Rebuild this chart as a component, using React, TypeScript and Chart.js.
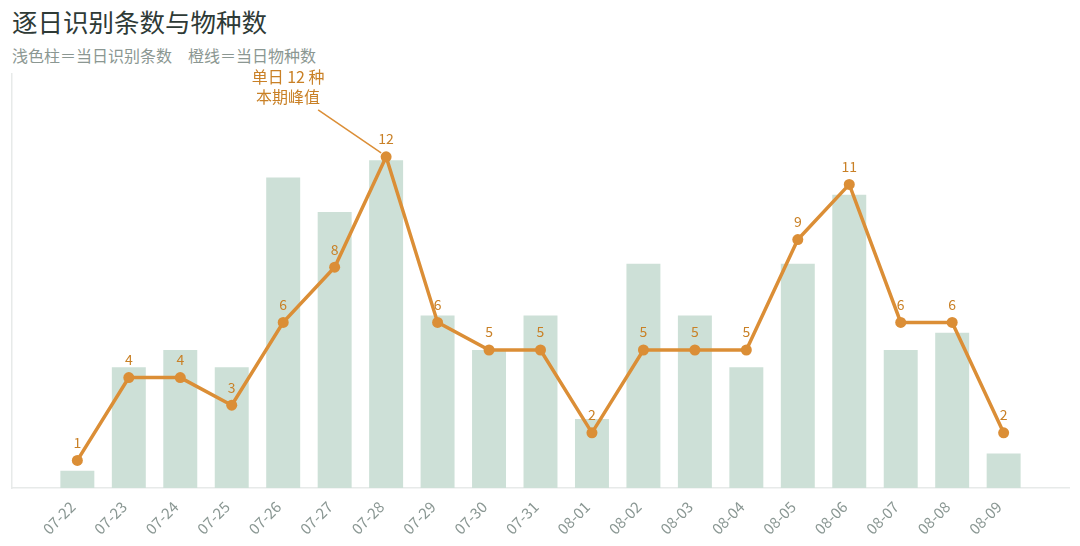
import { Chart, registerables } from "chart.js";
import { useEffect, useRef } from "react";

Chart.register(...registerables);

const dayLabels = [
  "07-22", "07-23", "07-24", "07-25", "07-26", "07-27", "07-28", "07-29", "07-30", "07-31",
  "08-01", "08-02", "08-03", "08-04", "08-05", "08-06", "08-07", "08-08", "08-09",
];
const recordCounts = [1, 7, 8, 7, 18, 16, 19, 10, 8, 10, 4, 13, 10, 7, 13, 17, 8, 9, 2];
const speciesCounts = [1, 4, 4, 3, 6, 8, 12, 6, 5, 5, 2, 5, 5, 5, 9, 11, 6, 6, 2];

const FONT = "'Noto Sans CJK SC', 'Noto Sans', sans-serif";
const ORANGE = "#db8e36";
const LABEL_ORANGE = "#c98026";

// number labels above each point + the peak note
const lineLabels = {
  id: "lineLabels",
  afterDatasetsDraw(chart: Chart) {
    const { ctx } = chart;
    const meta = chart.getDatasetMeta(1);
    ctx.save();
    ctx.fillStyle = LABEL_ORANGE;
    ctx.font = `14px ${FONT}`;
    ctx.textAlign = "center";
    ctx.textBaseline = "bottom";
    meta.data.forEach((pt: any, i: number) => {
      ctx.fillText(String(speciesCounts[i]), pt.x, pt.y - 11);
    });

    const peak = speciesCounts.indexOf(Math.max(...speciesCounts));
    const p: any = meta.data[peak];
    ctx.strokeStyle = ORANGE;
    ctx.lineWidth = 1.5;
    ctx.beginPath();
    ctx.moveTo(p.x - 68, p.y - 47);
    ctx.lineTo(p.x - 5, p.y - 4);
    ctx.stroke();

    ctx.font = `16px ${FONT}`;
    ctx.textBaseline = "middle";
    ctx.fillText(`单日 ${speciesCounts[peak]} 种`, p.x - 98, p.y - 80);
    ctx.fillText("本期峰值", p.x - 98, p.y - 60);
    ctx.restore();
  },
};

const DailyChart = () => {
  const canvasRef = useRef<HTMLCanvasElement>(null);

  useEffect(() => {
    document.body.style.margin = "0";
    if (!canvasRef.current) return;
    const chart = new Chart(canvasRef.current, {
      type: "bar",
      data: {
        datasets: [
          {
            type: "bar",
            label: "当日识别条数",
            data: recordCounts.map((v, i) => ({ x: i, y: v })),
            backgroundColor: "#cde0d7",
            barPercentage: 0.66,
            categoryPercentage: 1,
            yAxisID: "y",
            order: 1,
          },
          {
            type: "line",
            label: "当日物种数",
            data: speciesCounts.map((v, i) => ({ x: i, y: v })),
            borderColor: ORANGE,
            backgroundColor: ORANGE,
            borderWidth: 3.5,
            pointRadius: 5.5,
            pointBackgroundColor: ORANGE,
            pointBorderWidth: 0,
            tension: 0,
            yAxisID: "y1",
            order: 0,
          } as any,
        ],
      },
      options: {
        animation: false,
        responsive: true,
        maintainAspectRatio: false,
        layout: { padding: { left: 12, right: 11, top: 74, bottom: 0 } },
        plugins: {
          legend: { display: false },
          tooltip: { enabled: false },
        },
        scales: {
          x: {
            type: "linear",
            offset: false,
            min: -1.27,
            max: 19.27,
            grid: { display: false, drawTicks: false },
            border: { display: true, color: "#e7eae9", width: 1.5 },
            afterBuildTicks: (s: any) => {
              s.ticks = dayLabels.map((_, i) => ({ value: i }));
            },
            afterFit: (s: any) => {
              s.height = 58;
            },
            ticks: {
              autoSkip: false,
              maxRotation: 45,
              minRotation: 45,
              padding: 5,
              color: "#8a9793",
              font: { family: FONT, size: 15 },
              // trailing spaces nudge the rotated text down-left like the reference
              callback: (v: any) => (dayLabels[Math.round(Number(v))] ?? "") + "  ",
            },
          },
          y: {
            min: 0,
            max: 24,
            ticks: { display: false },
            grid: { display: false, drawTicks: false },
            border: { display: true, color: "#e7eae9", width: 1.5 },
            afterFit: (s: any) => {
              s.width = 0;
            },
          },
          y1: {
            display: false,
            min: 0,
            max: 15,
          },
        },
      },
      plugins: [lineLabels],
    });
    return () => chart.destroy();
  }, []);

  return (
    <div style={{ position: "relative", width: 1080, height: 546, background: "#fff" }}>
      <div
        style={{
          position: "absolute",
          left: 12,
          top: 5,
          fontFamily: FONT,
          fontSize: 25.5,
          lineHeight: "32px",
          color: "#2e3a36",
        }}
      >
        逐日识别条数与物种数
      </div>
      <div
        style={{
          position: "absolute",
          left: 12,
          top: 44,
          fontFamily: FONT,
          fontSize: 16,
          lineHeight: "22px",
          color: "#8b9792",
          whiteSpace: "pre",
        }}
      >
        浅色柱＝当日识别条数　橙线＝当日物种数
      </div>
      <canvas ref={canvasRef} style={{ position: "absolute", left: 0, top: 0, width: 1080, height: 546 }} />
    </div>
  );
};

export default function App() {
  return <DailyChart />;
}
